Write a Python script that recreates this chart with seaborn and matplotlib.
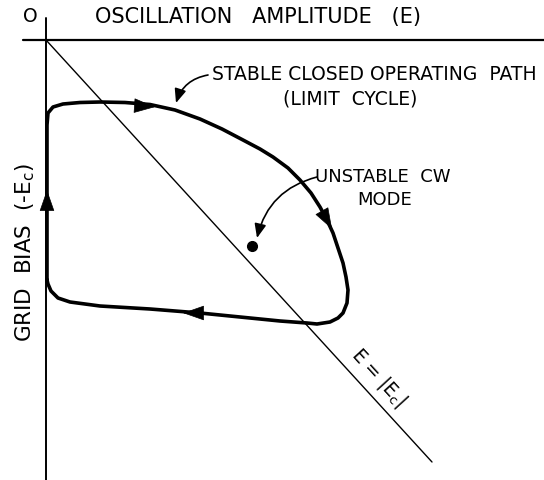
import numpy as np
import pandas as pd
import matplotlib
matplotlib.use("Agg")
from matplotlib import pyplot as plt
import seaborn as sns

# diagram units: E to the right of the origin, grid bias measured downward
cycle_E = [1, 1, 2, 7, 17, 34, 54, 79, 104, 129, 154, 176, 197, 214, 227, 242, 254,
           265, 274, 281, 287, 292, 297, 300, 302, 301, 297, 292, 284, 271, 261, 234,
           204, 154, 104, 54, 24, 12, 5, 2, 1]
cycle_bias = [240, 85, 73, 67, 64, 62.5, 62, 62.5, 64.5, 70, 79, 89, 100, 109, 117, 128,
              140, 153, 167, 180, 193, 208, 223, 237, 250, 263, 273, 278, 282, 284, 283,
              281, 278, 273, 269, 266, 262, 258, 251, 244, 240]

diag_E = [0, 386]
diag_bias = [0, 422]

# arrowheads on the path: (tail E, tail bias, tip E, tip bias)
arrow_tail_E = [94, 277, 153, 1]
arrow_tail_bias = [66, 173, 273, 170]
arrow_tip_E = [109, 286, 137, 1]
arrow_tip_bias = [67, 189, 273, 150]

cw_E = [206]
cw_bias = [206]

sns.set_theme(style="white")
plt.rcParams['font.family'] = ['DejaVu Sans']
plt.rcParams['text.color'] = 'black'

fig = plt.figure(figsize=(5.44, 4.80), dpi=100)
ax = fig.add_axes([0, 0, 1, 1])

# axes of the diagram
ax.plot([-23, 498], [0, 0], color="black", lw=1.6)
ax.plot([0, 0], [-22, 440], color="black", lw=1.4)

diag = pd.DataFrame({"E": diag_E, "bias": diag_bias})
sns.lineplot(data=diag, x="E", y="bias", color="black", lw=1.0, ax=ax, sort=False, estimator=None)

cyc = pd.DataFrame({"E": cycle_E, "bias": cycle_bias})
sns.lineplot(data=cyc, x="E", y="bias", color="black", lw=2.6, ax=ax, sort=False, estimator=None)

for te, tb, he, hb in zip(arrow_tail_E, arrow_tail_bias, arrow_tip_E, arrow_tip_bias):
    ax.annotate("", xy=(he, hb), xytext=(te, tb),
                arrowprops=dict(arrowstyle="-|>,head_length=1.0,head_width=0.35",
                                color="black", lw=0.5, shrinkA=0, shrinkB=0,
                                mutation_scale=14))

ax.plot(cw_E, cw_bias, "o", color="black", markersize=7)

# labels
fs = 13.5
ax.text(-16, -23, "O", fontsize=fs, ha="center", va="center")
ax.text(212, -23, "OSCILLATION   AMPLITUDE   (E)", fontsize=15, ha="center", va="center")
ax.text(-21, 213, "GRID  BIAS  (-E$_\\mathregular{c}$)", fontsize=15.5, ha="center", va="center",
        rotation=90)
ax.text(328, 35, "STABLE CLOSED OPERATING  PATH", fontsize=fs, ha="center", va="center")
ax.text(304, 59, "(LIMIT  CYCLE)", fontsize=fs, ha="center", va="center")
ax.text(337, 137, "UNSTABLE  CW", fontsize=13, ha="center", va="center")
ax.text(339, 160, "MODE", fontsize=13, ha="center", va="center")
ax.text(333, 338, "E = |E$_\\mathregular{c}$|", fontsize=fs, ha="center", va="center",
        rotation=-47.5, rotation_mode="anchor")

# leader arrows
ax.annotate("", xy=(130, 63), xytext=(162, 35),
            arrowprops=dict(arrowstyle="-|>,head_length=0.6,head_width=0.25", color="black",
                            lw=1.2, connectionstyle="arc3,rad=0.3", shrinkA=0, shrinkB=0,
                            mutation_scale=14))
ax.annotate("", xy=(211, 198), xytext=(271, 137),
            arrowprops=dict(arrowstyle="-|>,head_length=0.6,head_width=0.25", color="black",
                            lw=1.2, connectionstyle="arc3,rad=0.3", shrinkA=0, shrinkB=0,
                            mutation_scale=14))

ax.set_xlim(-46, 498)
ax.set_ylim(440, -40)
ax.set_axis_off()

fig.savefig("out.png", dpi=100)
